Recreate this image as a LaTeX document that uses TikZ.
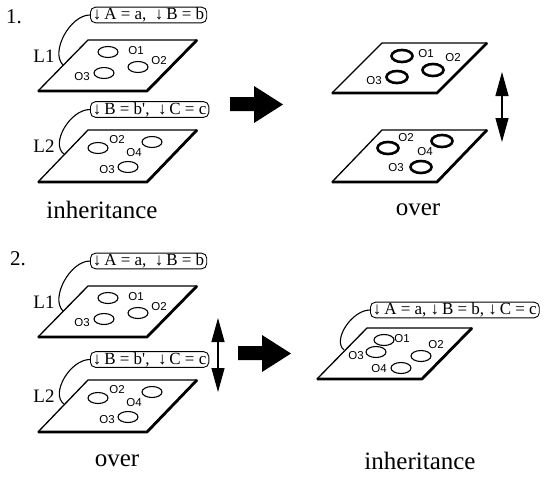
\documentclass[tikz,border=0pt]{standalone}
\usepackage{fontspec}
\setmainfont{Liberation Serif}
\newfontfamily\objfont{Liberation Sans}
\usetikzlibrary{arrows.meta,shapes.geometric}

\begin{document}
\begin{tikzpicture}[x=1pt,y=-1pt,
    plane/.style={line width=1.3pt,line join=round},
    planeedge/.style={line width=2.8pt,line join=round},
    tagbox/.style={draw,rounded corners=5pt,line width=0.9pt,inner xsep=2.5pt,inner ysep=0.6pt,
      anchor=west,font=\fontsize{17}{17}\selectfont},
    layername/.style={font=\fontsize{19}{20}\selectfont},
    numlabel/.style={font=\fontsize{21}{22}\selectfont},
    caption/.style={font=\fontsize{25}{27}\selectfont},
    obj/.style={ellipse,draw,line width=1.1pt,minimum width=20pt,minimum height=11pt,inner sep=0pt},
    objbold/.style={obj,line width=2.6pt,minimum width=21pt,minimum height=12pt},
    objname/.style={font=\objfont\fontsize{11.5}{12}\selectfont,inner sep=0pt},
    link/.style={line width=1.1pt},
    swaparrow/.style={{Triangle[length=24pt,width=13pt]}-{Triangle[length=24pt,width=13pt]},line width=1.2pt},
    bigarrow/.style={fill=black}
  ]
    \useasboundingbox (0,0) rectangle (544,479);

    \node[numlabel] (numOne) at (14,17) {1.};
    \node[numlabel] (numTwo) at (18,259) {2.};

    % case 1, layers before
    \node[tagbox] (tagIa) at (90,15) {↓\,A = a,\ \ ↓\,B = b};
    \draw[plane] (88,40) -- (197,40) -- (147,91) -- (38,91) -- cycle;
    \draw[planeedge] (38,91) -- (147,91) -- (197,40);
    \coordinate (hookIa) at (63,65);
    \draw[link] (tagIa.west) .. controls (70,15) and (50,52) .. (hookIa);
    \node[layername] (nameIa) at (44,56) {L1};
    \node[obj] (ia-o1) at (108,52) {};
    \node[obj] (ia-o2) at (138,67) {};
    \node[obj] (ia-o3) at (104,73) {};
    \node[objname] (ia-n1) at (136,51) {O1};
    \node[objname] (ia-n2) at (159,61) {O2};
    \node[objname] (ia-n3) at (82,77) {O3};

    \node[tagbox] (tagIb) at (90,109.5) {↓\,B = b\textquotesingle,\ \ ↓\,C = c};
    \draw[plane] (88,130) -- (197,130) -- (147,182) -- (38,182) -- cycle;
    \draw[planeedge] (38,182) -- (147,182) -- (197,130);
    \coordinate (hookIb) at (64,154);
    \draw[link] (tagIb.west) .. controls (70,109.5) and (50,144) .. (hookIb);
    \node[layername] (nameIb) at (44,146) {L2};
    \node[obj] (ib-o2) at (98,148) {};
    \node[obj] (ib-o4) at (152,142) {};
    \node[obj] (ib-o3) at (128,167) {};
    \node[objname] (ib-n2) at (117,140) {O2};
    \node[objname] (ib-n4) at (134,153) {O4};
    \node[objname] (ib-n3) at (107,170) {O3};

    \node[caption] (capInherit) at (102,210) {inheritance};

    \fill[bigarrow] (230,97) -- (254,97) -- (254,86) -- (283,104.5) -- (254,123) -- (254,111) -- (230,111) -- cycle;

    % case 1, result
    \draw[plane] (382,43) -- (487,43) -- (437,93) -- (332,93) -- cycle;
    \draw[planeedge] (332,93) -- (437,93) -- (487,43);
    \node[objbold] (ra-o1) at (402,56) {};
    \node[objbold] (ra-o2) at (433,70) {};
    \node[objbold] (ra-o3) at (397,77) {};
    \node[objname] (ra-n1) at (426,54) {O1};
    \node[objname] (ra-n2) at (453,58) {O2};
    \node[objname] (ra-n3) at (374,81) {O3};

    \draw[plane] (382,130) -- (487,130) -- (437,182) -- (332,182) -- cycle;
    \draw[planeedge] (332,182) -- (437,182) -- (487,130);
    \node[objbold] (rb-o2) at (388,148) {};
    \node[objbold] (rb-o4) at (442,141) {};
    \node[objbold] (rb-o3) at (421,167) {};
    \node[objname] (rb-n2) at (406,138) {O2};
    \node[objname] (rb-n4) at (425,152) {O4};
    \node[objname] (rb-n3) at (396,168) {O3};

    \coordinate (swapTopI) at (502,72);
    \coordinate (swapBotI) at (502,142);
    \draw[swaparrow] (swapTopI) -- (swapBotI);

    \node[caption] (capOver) at (418,210) {over};

    % case 2, layers before
    \node[tagbox] (tagIIa) at (90,261) {↓\,A = a,\ \ ↓\,B = b};
    \draw[plane] (88,286) -- (197,286) -- (147,337) -- (38,337) -- cycle;
    \draw[planeedge] (38,337) -- (147,337) -- (197,286);
    \coordinate (hookIIa) at (63,311);
    \draw[link] (tagIIa.west) .. controls (70,261) and (50,298) .. (hookIIa);
    \node[layername] (nameIIa) at (44,302) {L1};
    \node[obj] (iia-o1) at (108,298) {};
    \node[obj] (iia-o2) at (138,313) {};
    \node[obj] (iia-o3) at (104,319) {};
    \node[objname] (iia-n1) at (136,297) {O1};
    \node[objname] (iia-n2) at (159,307) {O2};
    \node[objname] (iia-n3) at (82,323) {O3};

    \node[tagbox] (tagIIb) at (90,359.5) {↓\,B = b\textquotesingle,\ \ ↓\,C = c};
    \draw[plane] (88,380) -- (197,380) -- (147,432) -- (38,432) -- cycle;
    \draw[planeedge] (38,432) -- (147,432) -- (197,380);
    \coordinate (hookIIb) at (64,404);
    \draw[link] (tagIIb.west) .. controls (70,359.5) and (50,394) .. (hookIIb);
    \node[layername] (nameIIb) at (44,396) {L2};
    \node[obj] (iib-o2) at (98,398) {};
    \node[obj] (iib-o4) at (152,392) {};
    \node[obj] (iib-o3) at (128,417) {};
    \node[objname] (iib-n2) at (117,390) {O2};
    \node[objname] (iib-n4) at (134,403) {O4};
    \node[objname] (iib-n3) at (107,420) {O3};

    \coordinate (swapTopII) at (218,318);
    \coordinate (swapBotII) at (218,392);
    \draw[swaparrow] (swapTopII) -- (swapBotII);

    \node[caption] (capOverII) at (117,461) {over};

    \fill[bigarrow] (238,346) -- (262,346) -- (262,335) -- (291,353.5) -- (262,372) -- (262,360) -- (238,360) -- cycle;

    % case 2, result
    \node[tagbox] (tagMerged) at (370,310) {↓\,A = a,\ ↓\,B = b,\ ↓\,C = c};
    \draw[plane] (367,328) -- (472,328) -- (422,379) -- (317,379) -- cycle;
    \draw[planeedge] (317,379) -- (422,379) -- (472,328);
    \coordinate (hookMerged) at (344,350);
    \draw[link] (tagMerged.west) .. controls (352,310) and (332,340) .. (hookMerged);
    \node[obj] (m-o1) at (384,340) {};
    \node[obj] (m-o3) at (376,352) {};
    \node[obj] (m-o2) at (421,356) {};
    \node[obj] (m-o4) at (401,368) {};
    \node[objname] (m-n1) at (402,339) {O1};
    \node[objname] (m-n3) at (356,356) {O3};
    \node[objname] (m-n2) at (436,345) {O2};
    \node[objname] (m-n4) at (379,369) {O4};

    \node[caption] (capInheritII) at (420,461) {inheritance};
  \end{tikzpicture}
\end{document}
